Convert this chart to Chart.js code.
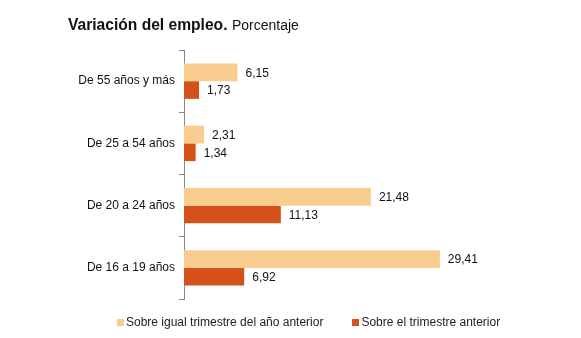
<!DOCTYPE html>
<html>
<head>
<meta charset="utf-8">
<script src="https://cdn.jsdelivr.net/npm/chart.js@4"></script>
<style>
  body { margin: 0; background: #fff; font-family: "Liberation Sans", Arial, sans-serif; }
  #wrap { position: relative; width: 581px; height: 338px; }
  #title { position: absolute; left: 68px; top: 16px; color: #111; white-space: nowrap; }
  #title b { font-size: 15.6px; }
  #title span { font-size: 14px; }
  #legend { position: absolute; left: 117px; top: 315px; font-size: 12px; color: #222; white-space: nowrap; }
  #legend i { display: inline-block; width: 7px; height: 7px; margin-right: 2px; vertical-align: 0px; }
</style>
</head>
<body>
<div id="wrap">
  <div id="title"><b>Variación del empleo.</b> <span>Porcentaje</span></div>
  <canvas id="chart-empleo" width="581" height="338"></canvas>
  <div id="legend"></div>
</div>
<script>
// datos
const categorias = ['De 55 años y más', 'De 25 a 54 años', 'De 20 a 24 años', 'De 16 a 19 años'];
const igualTrimAnyoAnt = [6.15, 2.31, 21.48, 29.41];
const trimAnterior = [1.73, 1.34, 11.13, 6.92];
const nombresSeries = ['Sobre igual trimestre del año anterior', 'Sobre el trimestre anterior'];
const colores = ['#f9cd8f', '#d5511a'];

// etiquetas de valor al final de cada barra
const valueLabels = {
  id: 'valueLabels',
  afterDatasetsDraw(chart) {
    const c = chart.ctx;
    c.save();
    c.font = '12px "Liberation Sans", Arial, sans-serif';
    c.fillStyle = '#111';
    c.textBaseline = 'middle';
    chart.data.datasets.forEach((ds, i) => {
      chart.getDatasetMeta(i).data.forEach((bar, j) => {
        c.fillText(ds.data[j].toFixed(2).replace('.', ','), bar.x + 8, bar.y + 1);
      });
    });
    c.restore();
  }
};

const ctx = document.getElementById('chart-empleo').getContext('2d');
const chart = new Chart(ctx, {
  type: 'bar',
  data: {
    labels: categorias,
    datasets: [
      { label: nombresSeries[0], data: igualTrimAnyoAnt, backgroundColor: colores[0] },
      { label: nombresSeries[1], data: trimAnterior, backgroundColor: colores[1] }
    ]
  },
  options: {
    indexAxis: 'y',
    responsive: false,
    animation: false,
    layout: { padding: { top: 50, bottom: 39, right: 49, left: 0 } },
    datasets: { bar: { categoryPercentage: 0.57, barPercentage: 1 } },
    plugins: {
      legend: { display: false },
      tooltip: { enabled: false }
    },
    scales: {
      x: { display: false, min: 0, max: 40 },
      y: {
        afterFit: s => { s.width = 184; },
        grid: { offset: true, drawOnChartArea: false, tickLength: 5, color: '#888' },
        border: { display: true, color: '#888' },
        ticks: { padding: 4, color: '#111', font: { family: '"Liberation Sans", Arial, sans-serif', size: 12 } }
      }
    }
  },
  plugins: [valueLabels]
});

// leyenda
const leg = document.getElementById('legend');
nombresSeries.forEach((n, i) => {
  const s = document.createElement('span');
  s.style.marginRight = i === 0 ? '29px' : '0';
  s.innerHTML = '<i style="background:' + colores[i] + '"></i>' + n;
  leg.appendChild(s);
});
</script>
</body>
</html>
